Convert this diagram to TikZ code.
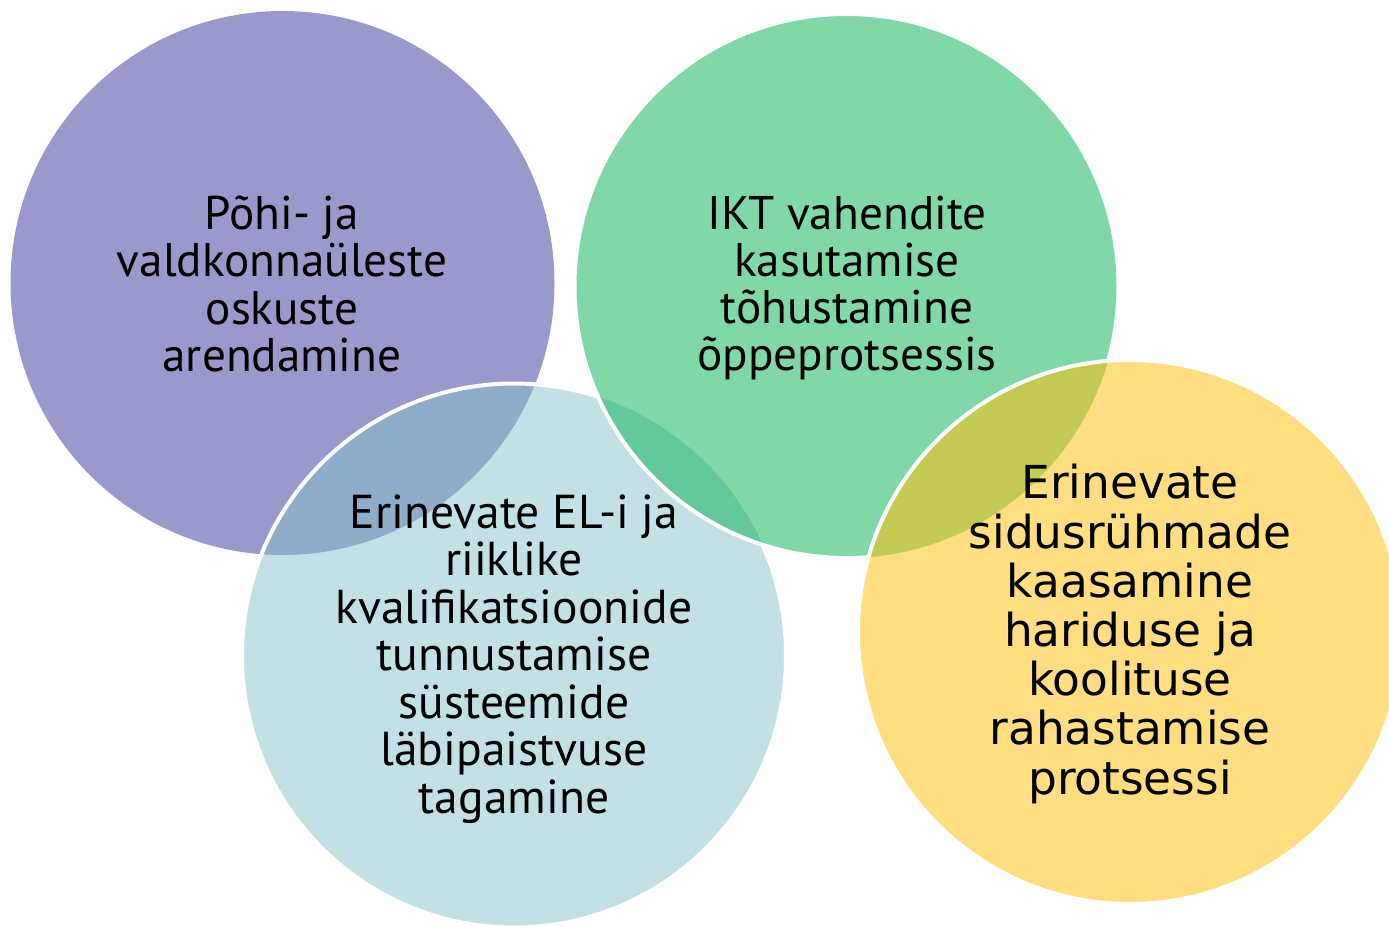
\documentclass[tikz,border=0pt]{standalone}
\usepackage{fontspec}
\setmainfont{PT Sans}
\newfontfamily\dvs{DejaVu Sans}
\definecolor{cpurple}{RGB}{153,153,204}
\definecolor{cblue}{RGB}{195,225,228}
\definecolor{cgreen}{RGB}{128,216,168}
\definecolor{cyellow}{RGB}{254,222,128}
\definecolor{cpb}{RGB}{143,173,201}
\definecolor{cgb}{RGB}{99,200,155}
\definecolor{cgy}{RGB}{195,203,85}
\begin{document}
\begin{tikzpicture}[x=0.5pt,y=-0.5pt,
  edge/.style={draw=white,line width=2pt},
  lbl/.style={align=center,text=black,inner sep=0pt,font=\fontsize{23.6}{23.6}\selectfont}]
\def\R{136pt}
\useasboundingbox (0,0) rectangle (1389,927);
\coordinate (cA) at (282.5,283);
\coordinate (cB) at (846.5,286);
\coordinate (cC) at (514,655.5);
\coordinate (cD) at (1130,632);
% purple
\fill[cpurple] (cA) circle[radius=\R];
% blue
\fill[cblue] (cC) circle[radius=\R];
\begin{scope}
  \clip (cC) circle[radius=\R];
  \fill[cpb] (cA) circle[radius=\R];
\end{scope}
\path[edge] (cC) circle[radius=\R];
% green
\fill[cgreen] (cB) circle[radius=\R];
\begin{scope}
  \clip (cB) circle[radius=\R];
  \fill[cgb] (cC) circle[radius=\R];
\end{scope}
\path[edge] (cB) circle[radius=\R];
% yellow
\fill[cyellow] (cD) circle[radius=\R];
\begin{scope}
  \clip (cD) circle[radius=\R];
  \fill[cgy] (cB) circle[radius=\R];
\end{scope}
\path[edge] (cD) circle[radius=\R];
% labels
\node[lbl] (tA) at (282,284) {Põhi- ja\\valdkonnaüleste\\oskuste\\arendamine};
\node[lbl] (tB) at (847,288) {IKT vahendite\\kasutamise\\tõhustamine\\õppeprotsessis};
\node[lbl,font=\fontsize{23.8}{23.75}\selectfont] (tC) at (514,659) {Erinevate EL-i ja\\riiklike\\kvalifikatsioonide\\tunnustamise\\süsteemide\\läbipaistvuse\\tagamine};
\node[lbl,font=\dvs\fontsize{22.7}{24.6}\selectfont] (tD) at (1130,634) {Erinevate\\sidusrühmade\\kaasamine\\hariduse ja\\koolituse\\rahastamise\\protsessi};
\end{tikzpicture}
\end{document}
